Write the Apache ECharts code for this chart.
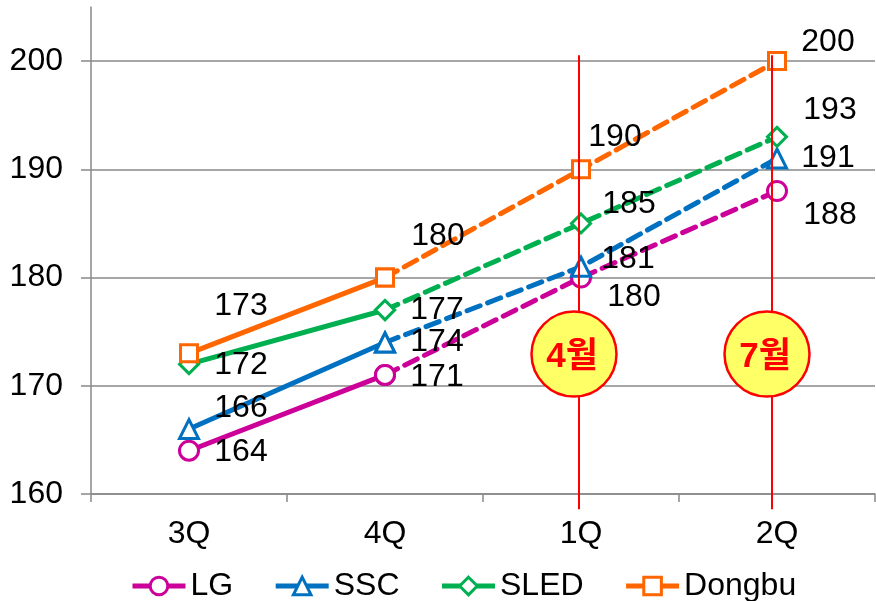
<!DOCTYPE html>
<html>
<head>
<meta charset="utf-8">
<script src="https://cdn.jsdelivr.net/npm/echarts@6/dist/echarts.min.js"></script>
<style>
html,body{margin:0;padding:0;background:#fff;}
#main{width:876px;height:601px;}
</style>
</head>
<body>
<div id="main"></div>
<script>
// ---- data ----
const categories = ['3Q', '4Q', '1Q', '2Q'];
const seriesNames = ['LG', 'SSC', 'SLED', 'Dongbu'];
const lgValues = [164, 171, 180, 188];
const sscValues = [166, 174, 181, 191];
const sledValues = [172, 177, 185, 193];
const dongbuValues = [173, 180, 190, 200];
const yTicks = [160, 170, 180, 190, 200];
const callouts = ['4월', '7월'];
const calloutCategories = ['1Q', '2Q'];

// ---- styles ----
const FONT = "'Liberation Sans', Arial, 'Noto Sans CJK KR', sans-serif";
const FS = 32;
const colors = ['#CC0099', '#0070C0', '#00B050', '#FF6600'];
const symbols = ['circle', 'triangle', 'diamond', 'rect'];
const symbolSizes = [19, 19, 19, 17];
// label offsets (pixels) per series per point
const labelOffsets = [
  [[52, 1], [52, 2], [53, 20], [53, 24]],
  [[52, -21], [52, 0], [47, -8], [51, 0]],
  [[52, 1], [52, 0], [48, -19], [53, -27]],
  [[52, -47], [53, -41], [34, -32], [51, -19]]
];
const allValues = [lgValues, sscValues, sledValues, dongbuValues];

const series = [];
allValues.forEach((vals, s) => {
  const mkItem = (v, i, show) => ({
    value: v,
    label: {
      show: show,
      position: 'inside',
      offset: labelOffsets[s][i],
      color: '#000',
      fontSize: FS,
      fontFamily: FONT
    }
  });
  const solid = vals.map((v, i) => i <= 1 ? mkItem(v, i, true) : '-');
  const dashed = vals.map((v, i) => i >= 1 ? mkItem(v, i, i >= 2) : '-');
  const common = {
    type: 'line',
    symbol: symbols[s],
    symbolSize: symbolSizes[s],
    showAllSymbol: true,
    itemStyle: { color: '#fff', borderColor: colors[s], borderWidth: 3 },
    emphasis: { disabled: true },
    animation: false,
    z: 3 + s
  };
  series.push(Object.assign({}, common, {
    name: seriesNames[s],
    data: solid,
    lineStyle: { color: colors[s], width: 5 }
  }));
  series.push(Object.assign({}, common, {
    name: seriesNames[s] + '_dash',
    data: dashed,
    lineStyle: { color: colors[s], width: 5, type: [14, 8], cap: 'round' }
  }));
});

const chart = echarts.init(document.getElementById('main'), null, { renderer: 'canvas' });
chart.setOption({
  animation: false,
  backgroundColor: '#fff',
  textStyle: { fontFamily: FONT },
  grid: { left: 91, right: 1, top: 7, bottom: 107, containLabel: false },
  legend: {
    data: seriesNames,
    left: 125,
    top: 565,
    itemWidth: 53,
    itemHeight: 22,
    itemGap: 40,
    itemStyle: { borderWidth: 3 },
    lineStyle: { width: 5 },
    textStyle: { fontSize: FS, color: '#000', fontFamily: FONT }
  },
  xAxis: {
    type: 'category',
    data: categories,
    boundaryGap: true,
    axisLine: { lineStyle: { color: '#898989', width: 1.5 } },
    axisTick: { show: true, length: 8, inside: false, lineStyle: { color: '#898989', width: 1.5 } },
    axisLabel: { fontSize: FS, color: '#000', margin: 24, fontFamily: FONT },
    splitLine: { show: false }
  },
  yAxis: {
    type: 'value',
    min: 160,
    max: 205,
    interval: 10,
    axisLine: { show: true, lineStyle: { color: '#898989', width: 1.5 } },
    axisTick: { show: true, length: 10, lineStyle: { color: '#898989', width: 1.5 } },
    axisLabel: {
      fontSize: FS, color: '#000', margin: 28, fontFamily: FONT,
      showMaxLabel: false,
      formatter: v => (yTicks.indexOf(v) >= 0 ? String(v) : '')
    },
    splitLine: { show: true, showMaxLine: false, lineStyle: { color: '#898989', width: 1.5 } }
  },
  series: series
});

// ---- annotations: red vertical lines and callout circles ----
const lineDx = [-2, -5];
const circleDx = [-7, -10];
const graphics = [];
calloutCategories.forEach((cat, k) => {
  const top = chart.convertToPixel({ gridIndex: 0 }, [cat, 200.55]);
  const bot = chart.convertToPixel({ gridIndex: 0 }, [cat, 158.6]);
  const mid = chart.convertToPixel({ gridIndex: 0 }, [cat, 172.93]);
  const lx = top[0] + lineDx[k];
  graphics.push({
    type: 'line', z: 100,
    shape: { x1: lx, y1: top[1], x2: lx, y2: bot[1] },
    style: { stroke: '#FF0000', lineWidth: 2 }
  });
  graphics.push({
    type: 'circle', z: 101,
    shape: { cx: mid[0] + circleDx[k], cy: mid[1], r: 42.5 },
    style: { fill: '#FFFF66', stroke: '#FF0000', lineWidth: 2.5 }
  });
  graphics.push({
    type: 'text', z: 102,
    x: mid[0] + circleDx[k] - 2, y: mid[1] + 3,
    style: {
      text: callouts[k], fill: '#FF0000', fontSize: 35, fontWeight: 'bold',
      fontFamily: "'Liberation Sans', 'Noto Sans CJK KR', sans-serif",
      align: 'center', verticalAlign: 'middle'
    }
  });
});
chart.setOption({ graphic: graphics });
</script>
</body>
</html>
